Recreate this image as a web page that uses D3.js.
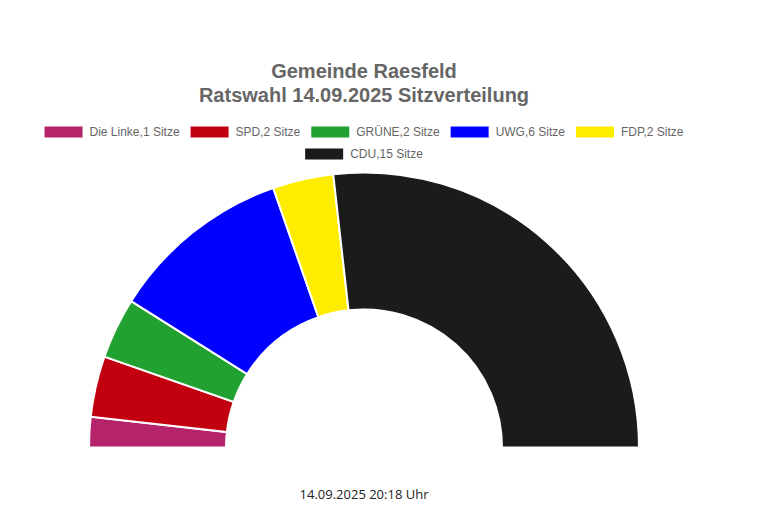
<!DOCTYPE html>
<html>
<head>
<meta charset="utf-8">
<script src="https://cdn.jsdelivr.net/npm/d3@7"></script>
<style>
  body { margin: 0; background: #fff; }
</style>
</head>
<body>
<div class="container"></div>
<script>
var WIDTH = 784, HEIGHT = 523;
var CX = 364, CY = 447;
var OUTER = 275, INNER = 138;

var parties = ["Die Linke", "SPD", "GRÜNE", "UWG", "FDP", "CDU"];
var seats = [1, 2, 2, 6, 2, 15];
var colors = ["#b5246b", "#c3000f", "#21a12f", "#0000ff", "#ffed00", "#1b1b1b"];
var titleLines = ["Gemeinde Raesfeld", "Ratswahl 14.09.2025 Sitzverteilung"];
var footer = "14.09.2025 20:18 Uhr";

var values = parties.map(function(p, i){ return {name: p, value: seats[i], color: colors[i]}; });

var svg = d3.select('.container').append('svg')
            .attr('width', WIDTH)
            .attr('height', HEIGHT);

// title
svg.selectAll('text.title').data(titleLines)
    .enter().append('text')
    .classed('title', true)
    .attr('x', CX)
    .attr('y', function(d, i){ return 78 + i * 24; })
    .attr('text-anchor', 'middle')
    .style('font', 'bold 20px "Liberation Sans", Arial, sans-serif')
    .style('fill', '#666')
    .text(function(d){ return d; });

// legend, wrapped into centred rows like the original
var BOX_W = 38, BOX_H = 11, GAP = 7, PAD = 11, MAX_W = 700;
var measure = svg.append('text').style('font', '12px "Liberation Sans", Arial, sans-serif');
var items = values.map(function(d){
    var label = d.name + "," + d.value + " Sitze";
    measure.text(label);
    var w = measure.node().getComputedTextLength();
    return {label: label, color: d.color, w: BOX_W + GAP + w};
});
measure.remove();

var rows = [[]], rowW = [0];
items.forEach(function(it){
    var r = rows.length - 1;
    var add = (rows[r].length ? PAD : 0) + it.w;
    if (rows[r].length && rowW[r] + add > MAX_W) {
        rows.push([it]); rowW.push(it.w);
    } else {
        rows[r].push(it); rowW[r] += add;
    }
});

var legend = svg.append('g').classed('legend', true);
rows.forEach(function(row, ri){
    var x = CX - rowW[ri] / 2;
    var y = 132 + ri * 22;
    row.forEach(function(it){
        legend.append('rect')
            .attr('x', x).attr('y', y - BOX_H / 2)
            .attr('width', BOX_W).attr('height', BOX_H)
            .attr('fill', it.color);
        legend.append('text')
            .attr('x', x + BOX_W + GAP).attr('y', y + 4)
            .style('font', '12px "Liberation Sans", Arial, sans-serif')
            .style('fill', '#666')
            .text(it.label);
        x += it.w + PAD;
    });
});

// half donut
var pie = d3.pie()
    .sort(null)
    .startAngle(-Math.PI / 2)
    .endAngle(Math.PI / 2)
    .value(function(d){ return d.value; });

var arc = d3.arc().innerRadius(INNER).outerRadius(OUTER);

svg.append('g')
    .attr('transform', 'translate(' + CX + ',' + (CY + 0.5) + ')')
    .selectAll('path').data(pie(values))
    .enter().append('path')
        .attr('d', arc)
        .attr('fill', function(d){ return d.data.color; })
        .attr('stroke', '#fff')
        .attr('stroke-width', 2)
        .append('title')
            .text(function(d){ return d.data.name + ": " + d.data.value; });

// timestamp
svg.append('text')
    .attr('x', CX)
    .attr('y', 499)
    .attr('text-anchor', 'middle')
    .style('font', '13px "Open Sans", "Noto Sans", sans-serif')
    .style('fill', '#222')
    .text(footer);
</script>
</body>
</html>
